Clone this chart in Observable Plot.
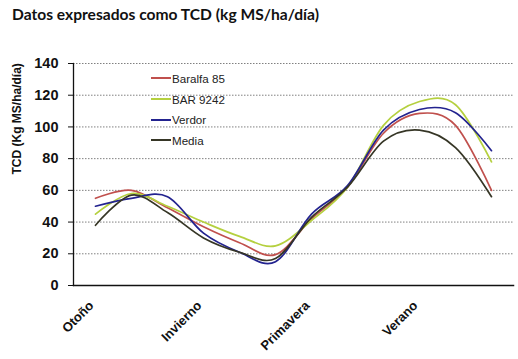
<!DOCTYPE html>
<html>
<head>
<meta charset="utf-8">
<script src="https://cdn.jsdelivr.net/npm/d3@7"></script>
<script src="https://cdn.jsdelivr.net/npm/@observablehq/plot@0.6"></script>
<style>
  html, body { margin: 0; padding: 0; background: #fff; }
  #wrap { position: relative; width: 518px; height: 359px; overflow: hidden; background:#fff; }
  #title { position: absolute; left: 12px; top: 5px; font-family: Lato, "Open Sans", sans-serif; font-weight: 700; font-size: 15.6px; color: #111; white-space: nowrap; }
  #legend { position: absolute; left: 151px; top: 68px; font-family: "Liberation Sans", Arial, sans-serif; font-size: 11.6px; color: #222; }
  .item { display: flex; align-items: center; height: 20.7px; }
  .sw { width: 20px; height: 2px; margin-right: 1px; }
  #plot { position: absolute; left: 0; top: 0; }
</style>
</head>
<body>
<div id="wrap">
  <div id="plot"></div>
  <div id="title">Datos expresados como TCD (kg MS/ha/día)</div>
  <div id="legend"></div>
</div>
<script>
const months = ["Mar","Abr","May","Jun","Jul","Ago","Sep","Oct","Nov","Dic","Ene","Feb"];
const seasonTicks = ["Mar","Jun","Sep","Dic"];
const seasonLabels = ["Otoño","Invierno","Primavera","Verano"];
const series = ["Baralfa 85","BAR 9242","Verdor","Media"];
const colors = ["#c0504d","#b5d03f","#23238f","#363626"];
const baralfa85 = [55,60,49,37,27,19.5,42,62,96,108.5,101,60];
const bar9242   = [45,58,50,40,31,25,41,62,101,116,114,78];
const verdor    = [50,55,56,33,21,15,45,63,98,111,109,85];
const media     = [38,57,46,30,21,17,43,62,91,98,87,56];
const yTicks = [0,20,40,60,80,100,120,140];
const yLabel = "TCD (Kg MS/ha/día)";

const valuesBySeries = [baralfa85, bar9242, verdor, media];
const data = [];
series.forEach((s, si) => valuesBySeries[si].forEach((v, i) => data.push({serie: s, mes: months[i], valor: v})));

const seasonOf = new Map(seasonTicks.map((t, i) => [t, seasonLabels[i]]));

const plot = Plot.plot({
  width: 518,
  height: 359,
  marginTop: 63,
  marginBottom: 74,
  marginLeft: 73,
  marginRight: 5,
  style: {fontFamily: "'Liberation Sans', Arial, sans-serif", background: "#fff", color: "#111"},
  x: {type: "point", domain: months, padding: 0.5},
  y: {domain: [0, 140]},
  color: {domain: series, range: colors},
  marks: [
    Plot.gridY(yTicks.filter(d => d > 0), {stroke: "#808080", strokeOpacity: 1, strokeDasharray: "1.5,1.5", strokeWidth: 1}),
    Plot.axisY(yTicks, {tickSize: 5, tickPadding: 10, fontSize: 14.5, fontWeight: "bold", label: null, stroke: "#111"}),
    Plot.axisX(seasonTicks, {tickSize: 0, tickPadding: 18, dx: -4, tickRotate: -45, fontSize: 13, fontWeight: "bold", label: null, tickFormat: d => seasonOf.get(d), textAnchor: "end"}),
    Plot.text([yLabel], {text: d => d, frameAnchor: "left", rotate: -90, dx: -56, fontSize: 12, fontWeight: "bold", fill: "#111"}),
    Plot.line(data, {x: "mes", y: "valor", z: "serie", stroke: "serie", strokeWidth: 1.7, curve: "cardinal"}),
    Plot.frame({anchor: "left", stroke: "#111", strokeWidth: 1.3}),
    Plot.frame({anchor: "bottom", stroke: "#111", strokeWidth: 1.5})
  ]
});
document.getElementById("plot").appendChild(plot);

const legend = document.getElementById("legend");
series.forEach((s, i) => {
  const item = document.createElement("div");
  item.className = "item";
  const sw = document.createElement("span");
  sw.className = "sw";
  sw.style.background = colors[i];
  const t = document.createElement("span");
  t.textContent = s;
  item.appendChild(sw);
  item.appendChild(t);
  legend.appendChild(item);
});
</script>
</body>
</html>
